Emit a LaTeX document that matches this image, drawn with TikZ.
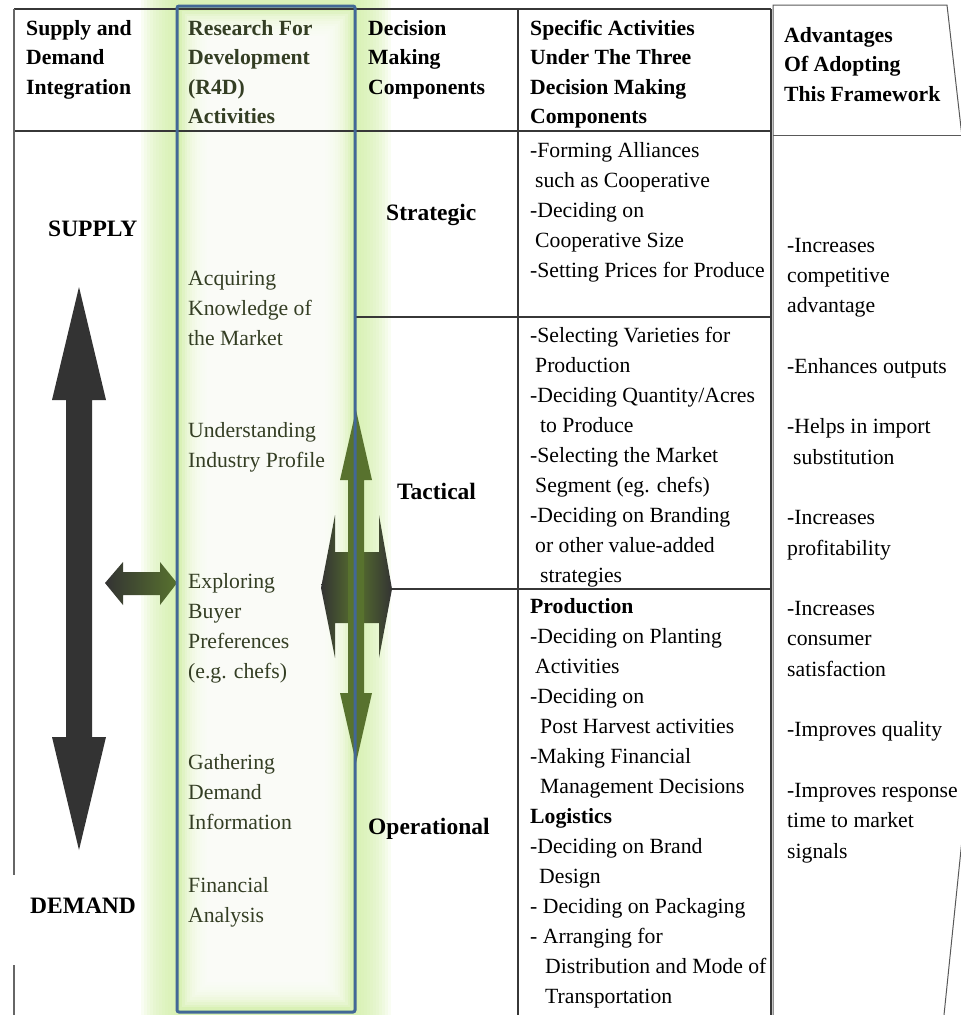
\documentclass[tikz,border=0pt]{standalone}
\usepackage{fontspec}
\setmainfont{Liberation Serif}
\usepackage{xcolor}
\definecolor{glowgreen}{RGB}{208,238,164}
\definecolor{r4dblue}{RGB}{66,104,150}
\definecolor{armolive}{RGB}{88,114,46}
\definecolor{arrowdark}{RGB}{51,51,51}
\definecolor{r4dtext}{RGB}{52,62,36}
\definecolor{ruledark}{RGB}{55,55,55}

\begin{document}
\begin{tikzpicture}[x=1pt,y=-1pt]
    % multi-line nodes sit on the baseline of their last line
    \tikzstyle{cell}=[anchor=base west, inner sep=0pt, align=left, font=\fontsize{21.7}{30}\selectfont]
    \tikzstyle{hdr}=[cell, font=\fontsize{21.7}{29.5}\selectfont\bfseries]
    \tikzstyle{tier}=[anchor=base west, inner sep=0pt, font=\fontsize{23.5}{28}\selectfont\bfseries]
    \tikzstyle{tabline}=[draw=ruledark, line width=1.2pt]

    \useasboundingbox (0,0) rectangle (961,1015);
    \clip (0,0) rectangle (961,1015);

%   glow round the R4D column
    \foreach \i in {1,...,12}
        \fill[glowgreen, fill opacity=0.13] (177-3*\i,6-3*\i) rectangle (355+3*\i,1012+3*\i);
    \fill[glowgreen] (177,6) rectangle (355,1012);
    \foreach \i in {1,...,12}
        \fill[white, fill opacity=0.2] (177+2.5*\i,6+2.5*\i) rectangle (355-2.5*\i,1012-2.5*\i);

%   table rules
    \draw[tabline] (14,9) -- (771,9);
    \draw[tabline] (14,131) -- (771,131);
    \draw[tabline, draw=black!60] (14,9) -- (14,875);
    \draw[tabline, draw=black!60] (14,965) -- (14,1015);
    \draw[tabline] (518,9) -- (518,1015);
    \draw[tabline] (771,9) -- (771,1015);
    \draw[tabline] (356,317) -- (771,317);
    \draw[tabline, draw=black!65, line width=1pt] (773,1015) -- (773,5) -- (947,5) -- (1000,470) -- (944,1015);
    \draw[tabline, draw=black!65, line width=1pt] (773,135) -- (961,135);

%   supply <-> demand arrow
    \fill[arrowdark] (79,287) -- (106,400) -- (92,400) -- (92,737) -- (106,737) -- (79,850)
        -- (52,737) -- (66,737) -- (66,400) -- (52,400) -- cycle;
    \shade[left color=arrowdark, right color=armolive] (105,583) -- (123,562) -- (123,572) -- (160,572)
        -- (160,562) -- (177,583) -- (160,605) -- (160,595) -- (123,595) -- (123,605) -- cycle;

%   decision components arrows
    \shade[left color=arrowdark, right color=armolive] (321,588) -- (335,515) -- (335,552) -- (357,552)
        -- (357,623) -- (335,623) -- (335,658) -- cycle;
    \shade[left color=armolive, right color=arrowdark] (392,589) -- (379,515) -- (379,552) -- (355,552)
        -- (355,623) -- (379,623) -- (379,658) -- cycle;
    \coordinate (tac-tip) at (392,589);
    \fill[armolive] (356,410) -- (372,480) -- (364,480) -- (364,693) -- (372,693) -- (356,763)
        -- (340,693) -- (348,693) -- (348,480) -- (340,480) -- cycle;
    \draw[tabline] (tac-tip) -- (771,589);

    \draw[r4dblue, line width=3pt, rounded corners=2pt] (177,6) rectangle (355,1012);

%   headers
    \node[hdr] (hdr-sdi) at (26,94) {Supply and\\Demand\\Integration};
    \node[hdr, text=r4dtext] (hdr-r4d) at (188,123.5) {Research For\\Development\\(R4D)\\Activities};
    \node[hdr] (hdr-dmc) at (368,94) {Decision\\Making\\Components};
    \node[hdr] (hdr-spec) at (530,123.5) {Specific Activities\\Under The Three\\Decision Making\\Components};
    \node[hdr] (hdr-adv) at (784,101) {Advantages\\Of Adopting\\This Framework};

    \node[tier] (supply) at (48,236) {SUPPLY};
    \node[tier] (demand) at (30,913) {DEMAND};

    \foreach \t/\y [count=\i] in {{Acquiring\\Knowledge of\\the Market}/345,
            {Understanding\\Industry Profile}/467,
            {Exploring\\Buyer\\Preferences\\(e.g. chefs)}/678,
            {Gathering\\Demand\\Information}/829,
            {Financial\\Analysis}/922}
        \node[cell, text=r4dtext] (act-\i) at (188,\y) {\t};

    \node[tier] (strategic) at (386,220) {Strategic};
    \node[tier] (tactical) at (397,499) {Tactical};
    \node[tier] (operational) at (368,834) {Operational};

    \node[cell] (spec-strat) at (530,277) {-Forming Alliances\\\hspace*{5pt}such as Cooperative\\-Deciding on\\
        \hspace*{5pt}Cooperative Size\\-Setting Prices for Produce};
    \node[cell] (spec-tact) at (530,582) {-Selecting Varieties for\\\hspace*{5pt}Production\\-Deciding Quantity/Acres\\
        \hspace*{10pt}to Produce\\-Selecting the Market\\\hspace*{5pt}Segment (eg. chefs)\\-Deciding on Branding\\
        \hspace*{5pt}or other value-added\\\hspace*{10pt}strategies};
    \node[cell] (spec-oper) at (530,1003) {\textbf{Production}\\-Deciding on Planting\\\hspace*{5pt}Activities\\-Deciding on\\
        \hspace*{10pt}Post Harvest activities\\-Making Financial\\\hspace*{10pt}Management Decisions\\\textbf{Logistics}\\
        -Deciding on Brand\\\hspace*{9pt}Design\\- Deciding on Packaging\\- Arranging for\\
        \hspace*{15pt}Distribution and Mode of\\\hspace*{15pt}Transportation};

    \node[cell, font=\fontsize{21.7}{30.3}\selectfont] (adv) at (787,858) {-Increases\\competitive\\advantage\\[30.3pt]
        -Enhances outputs\\[30.3pt]-Helps in import\\\hspace*{6pt}substitution\\[30.3pt]-Increases\\profitability\\[30.3pt]
        -Increases\\consumer\\satisfaction\\[30.3pt]-Improves quality\\[30.3pt]-Improves response\\time to market\\signals};
\end{tikzpicture}
\end{document}
